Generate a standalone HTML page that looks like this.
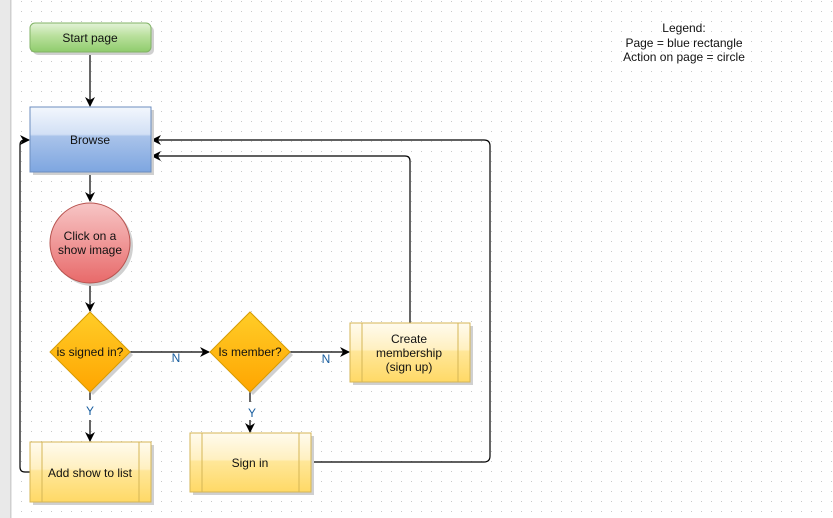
<!DOCTYPE html>
<html><head><meta charset="utf-8"><style>
html,body{margin:0;padding:0;background:#fff;}
svg{display:block;font-family:"Liberation Sans",Arial,sans-serif;}
</style></head><body>
<svg width="833" height="518" viewBox="0 0 833 518" xmlns="http://www.w3.org/2000/svg">
<defs>
<pattern id="dots" x="0" y="0" width="10" height="10" patternUnits="userSpaceOnUse">
<rect x="1" y="1" width="1" height="1" fill="#c8c8c8"/>
</pattern>
<linearGradient id="gGreen" x1="0" y1="0" x2="0" y2="1">
<stop offset="0" stop-color="#e3f3d8"/><stop offset="0.45" stop-color="#b9e09c"/><stop offset="1" stop-color="#8fcc6c"/></linearGradient>
<linearGradient id="gBlue" x1="0" y1="0" x2="0" y2="1">
<stop offset="0" stop-color="#f3f7fd"/><stop offset="0.42" stop-color="#d2e0f5"/><stop offset="0.45" stop-color="#a9c3ea"/><stop offset="1" stop-color="#7ea6e0"/></linearGradient>
<linearGradient id="gRed" x1="0" y1="0" x2="0" y2="1">
<stop offset="0" stop-color="#f7c6c6"/><stop offset="1" stop-color="#e86a6a"/></linearGradient>
<linearGradient id="gOrange" x1="0" y1="0" x2="0" y2="1">
<stop offset="0" stop-color="#ffcd28"/><stop offset="1" stop-color="#ffa500"/></linearGradient>
<linearGradient id="gYellow" x1="0" y1="0" x2="0" y2="1">
<stop offset="0" stop-color="#fffbee"/><stop offset="0.45" stop-color="#fff0c0"/><stop offset="0.48" stop-color="#ffe799"/><stop offset="1" stop-color="#ffd966"/></linearGradient>
<marker id="arr" markerWidth="10" markerHeight="10" refX="9" refY="5" orient="auto" markerUnits="userSpaceOnUse">
<path d="M0,0 L10,5 L0,10 L3,5 Z" fill="#000"/></marker>
</defs>
<rect width="833" height="518" fill="#fff"/>
<rect x="12" width="821" height="518" fill="url(#dots)"/>
<rect x="0" y="0" width="10" height="518" fill="#e9e9e9"/>
<rect x="10" y="0" width="1.5" height="518" fill="#cfcfcf"/>

<!-- connectors -->
<g stroke="#000" stroke-width="1.2" fill="none">
<line x1="90" y1="52" x2="90" y2="106" marker-end="url(#arr)"/>
<line x1="90" y1="172" x2="90" y2="201" marker-end="url(#arr)"/>
<line x1="90" y1="283" x2="90" y2="311" marker-end="url(#arr)"/>
<line x1="130" y1="352" x2="209" y2="352" marker-end="url(#arr)"/>
<line x1="290" y1="352" x2="349" y2="352" marker-end="url(#arr)"/>
<line x1="90" y1="392" x2="90" y2="441" marker-end="url(#arr)"/>
<line x1="250" y1="392" x2="250" y2="432" marker-end="url(#arr)"/>
<path d="M410,323 L410,161 Q410,156 405,156 L152,156" marker-end="url(#arr)"/>
<path d="M311,462 L484,462 Q490,462 490,456 L490,146 Q490,140 484,140 L152,140" marker-end="url(#arr)"/>
<path d="M30,472 L25,472 Q20,472 20,467 L20,145 Q20,140 25,140 L29,140" marker-end="url(#arr)"/>
</g>
<rect x="80" y="400" width="20" height="20" fill="#fff"/>
<rect x="240" y="402" width="20" height="18" fill="#fff"/>
<g font-size="12" fill="#1a5fa0" text-anchor="middle">
<text x="90" y="415">Y</text>
<text x="252" y="417">Y</text>
<text x="176" y="362">N</text>
<text x="326" y="363">N</text>
</g>

<!-- Start page -->
<rect x="33" y="26" width="121" height="29" rx="5" fill="#d0d0d0"/>
<rect x="30" y="23" width="121" height="29" rx="5" fill="url(#gGreen)" stroke="#82b366"/>
<text x="90" y="42" font-size="12" text-anchor="middle" fill="#111">Start page</text>

<!-- Browse -->
<rect x="33" y="110" width="121" height="65" fill="#d0d0d0"/>
<rect x="30" y="107" width="121" height="65" fill="url(#gBlue)" stroke="#6c8ebf"/>
<text x="90" y="144" font-size="12" text-anchor="middle" fill="#111">Browse</text>

<!-- circle -->
<circle cx="93" cy="246" r="40" fill="#d0d0d0"/>
<circle cx="90" cy="243" r="40" fill="url(#gRed)" stroke="#b85450"/>
<text x="90" y="240" font-size="12" text-anchor="middle" fill="#111">Click on a</text>
<text x="90" y="254" font-size="12" text-anchor="middle" fill="#111">show image</text>

<!-- diamonds -->
<polygon points="93,315 133,355 93,395 53,355" fill="#d0d0d0"/>
<polygon points="90,312 130,352 90,392 50,352" fill="url(#gOrange)" stroke="#d79b00"/>
<text x="90" y="356" font-size="12" text-anchor="middle" fill="#111">is signed in?</text>
<polygon points="253,315 293,355 253,395 213,355" fill="#d0d0d0"/>
<polygon points="250,312 290,352 250,392 210,352" fill="url(#gOrange)" stroke="#d79b00"/>
<text x="250" y="356" font-size="12" text-anchor="middle" fill="#111">Is member?</text>

<!-- process boxes -->
<rect x="353" y="326" width="120" height="59" fill="#d0d0d0"/>
<rect x="350" y="323" width="120" height="59" fill="url(#gYellow)" stroke="#d6b656"/>
<line x1="362" y1="323" x2="362" y2="382" stroke="#d6b656"/>
<line x1="458" y1="323" x2="458" y2="382" stroke="#d6b656"/>
<text x="409" y="343" font-size="12" text-anchor="middle" fill="#111">Create</text>
<text x="409" y="357" font-size="12" text-anchor="middle" fill="#111">membership</text>
<text x="409" y="371" font-size="12" text-anchor="middle" fill="#111">(sign up)</text>

<rect x="193" y="436" width="121" height="59" fill="#d0d0d0"/>
<rect x="190" y="433" width="121" height="59" fill="url(#gYellow)" stroke="#d6b656"/>
<line x1="202" y1="433" x2="202" y2="492" stroke="#d6b656"/>
<line x1="299" y1="433" x2="299" y2="492" stroke="#d6b656"/>
<text x="250" y="467" font-size="12" text-anchor="middle" fill="#111">Sign in</text>

<rect x="33" y="445" width="121" height="60" fill="#d0d0d0"/>
<rect x="30" y="442" width="121" height="60" fill="url(#gYellow)" stroke="#d6b656"/>
<line x1="42" y1="442" x2="42" y2="502" stroke="#d6b656"/>
<line x1="139" y1="442" x2="139" y2="502" stroke="#d6b656"/>
<text x="90" y="477" font-size="12" text-anchor="middle" fill="#111">Add show to list</text>

<!-- legend -->
<g font-size="12" text-anchor="middle" fill="#111">
<text x="684" y="32">Legend:</text>
<text x="684" y="47">Page = blue rectangle</text>
<text x="684" y="61">Action on page = circle</text>
</g>
</svg>
</body></html>
